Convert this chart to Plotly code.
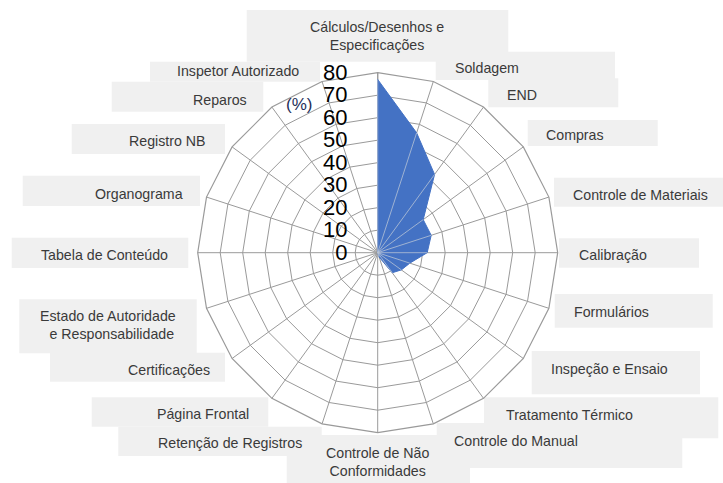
import plotly.graph_objects as go

# ---- data ----
categories = [
    "Cálculos/Desenhos e Especificações", "Soldagem", "END", "Compras",
    "Controle de Materiais", "Calibração", "Formulários", "Inspeção e Ensaio",
    "Tratamento Térmico", "Controle do Manual", "Controle de Não Conformidades",
    "Retenção de Registros", "Página Frontal", "Certificações",
    "Estado de Autoridade e Responsabilidade", "Tabela de Conteúdo",
    "Organograma", "Registro NB", "Reparos", "Inspetor Autorizado",
]
values = [77, 56, 43, 25, 25, 22, 15, 13, 11, 2, 0, 0, 0, 0, 0, 0, 0, 0, 0, 0]
radial_ticks = [0, 10, 20, 30, 40, 50, 60, 70, 80]
unit_label = "(%)"

# label display text (line breaks as in the chart)
label_text = {
    "Cálculos/Desenhos e Especificações": "Cálculos/Desenhos e<br>Especificações",
    "Estado de Autoridade e Responsabilidade": "Estado de Autoridade<br>  e Responsabilidade",
    "Controle de Não Conformidades": "Controle de Não<br>Conformidades",
}

# ---- layout constants (pixels) ----
W, H = 723, 483
CX, CY, R = 377.7, 252.7, 180.0
BOX = "#f0f0f0"
TXT = "#3a3a3a"
GRID = "#9a9a9a"

# box (x0, x1, y0, y1) and text centre (x, y) for each category label
label_layout = {
    "Cálculos/Desenhos e Especificações": ((246.7, 508.3, 10, 61.7), (377, 35.5)),
    "Inspetor Autorizado": ((150, 320, 61.7, 81.7), (238, 71)),
    "Reparos": ((111.7, 263.3, 81.7, 111.7), (220, 100)),
    "Soldagem": ((435.7, 615, 51.7, 80), (487, 68)),
    "END": ((488.3, 618.3, 78.3, 107.3), (522, 95)),
    "Registro NB": ((71.7, 225, 124, 154), (167, 141)),
    "Compras": ((527.7, 657.7, 120, 146), (575, 135)),
    "Organograma": ((22.7, 200, 175.7, 206), (138.5, 194)),
    "Controle de Materiais": ((554, 723, 177.7, 206.7), (640, 195)),
    "Tabela de Conteúdo": ((11.7, 188.3, 237.7, 268), (104.5, 255)),
    "Calibração": ((559, 699, 238.3, 267.7), (613, 255)),
    "Estado de Autoridade e Responsabilidade": ((19.3, 196.7, 299.3, 353.3), (108, 325)),
    "Formulários": ((554.7, 712.7, 294, 327.7), (611, 311.5)),
    "Certificações": ((50, 225, 352.7, 381.7), (169, 370)),
    "Inspeção e Ensaio": ((531.7, 700, 351, 394.3), (609, 368.5)),
    "Página Frontal": ((91.7, 268.3, 397.3, 426.7), (203, 413.5)),
    "Tratamento Térmico": ((484, 718.3, 397.3, 438.3), (569, 415)),
    "Controle do Manual": ((436.7, 682.3, 423, 468), (516, 441)),
    "Retenção de Registros": ((118.3, 321.7, 426.7, 456), (229.5, 443)),
    "Controle de Não Conformidades": ((286.7, 470, 435, 483), (377, 461.5)),
}


def px(x):
    return x / W


def py(y):
    return 1 - y / H


fig = go.Figure()

# filled radar series
fig.add_trace(go.Scatterpolar(
    r=values + values[:1],
    theta=categories + categories[:1],
    mode="lines",
    fill="toself",
    fillcolor="#4472c4",
    line=dict(color="#4472c4", width=1),
    hoverinfo="skip",
    showlegend=False,
))

# faint spokes visible through the fill
for cat, v in zip(categories, values):
    if v > 0:
        fig.add_trace(go.Scatterpolar(
            r=[0, v], theta=[cat, cat], mode="lines",
            line=dict(color="rgba(190,200,215,0.75)", width=1),
            hoverinfo="skip", showlegend=False,
        ))

shapes = []
annotations = []
for cat in categories:
    (x0, x1, y0, y1), (tx, ty) = label_layout[cat]
    shapes.append(dict(type="rect", xref="paper", yref="paper",
                       x0=px(x0), x1=px(x1), y0=py(y1), y1=py(y0),
                       fillcolor=BOX, line=dict(width=0), layer="below"))
    annotations.append(dict(xref="paper", yref="paper", x=px(tx), y=py(ty),
                            text=label_text.get(cat, cat), showarrow=False,
                            xanchor="center", yanchor="middle",
                            font=dict(family="Liberation Sans, Arial", size=14.2, color=TXT)))

annotations.append(dict(xref="paper", yref="paper", x=px(299), y=py(104),
                        text=unit_label, showarrow=False, xanchor="center", yanchor="middle",
                        font=dict(family="Liberation Sans, Arial", size=17, color="#1f2f5a")))

fig.update_layout(
    width=W, height=H,
    margin=dict(l=0, r=0, t=0, b=0),
    paper_bgcolor="white",
    template="none",
    shapes=shapes,
    annotations=annotations,
    polar=dict(
        domain=dict(x=[px(CX - R), px(CX + R)], y=[py(CY + R), py(CY - R)]),
        bgcolor="rgba(0,0,0,0)",
        gridshape="linear",
        angularaxis=dict(
            type="category",
            categoryarray=categories,
            rotation=90,
            direction="clockwise",
            showticklabels=False,
            ticks="",
            showline=True,
            linecolor=GRID,
            linewidth=1.2,
            gridcolor=GRID,
            gridwidth=1.2,
            layer="below traces",
        ),
        radialaxis=dict(
            range=[0, 80],
            tickvals=radial_ticks,
            ticktext=[str(t) for t in radial_ticks],
            angle=90,
            side="counterclockwise",
            tickangle=90,
            ticks="outside",
            ticklen=22,
            tickcolor="rgba(0,0,0,0)",
            showline=True,
            linecolor=GRID,
            linewidth=1.2,
            gridcolor=GRID,
            gridwidth=1.2,
            layer="below traces",
            tickfont=dict(family="Liberation Sans, Arial", size=22, color="black"),
        ),
    ),
)

fig.write_html(
    "out.html",
    config={"displayModeBar": False},
    post_script="document.body.style.margin='0';document.body.style.overflow='hidden';",
)
